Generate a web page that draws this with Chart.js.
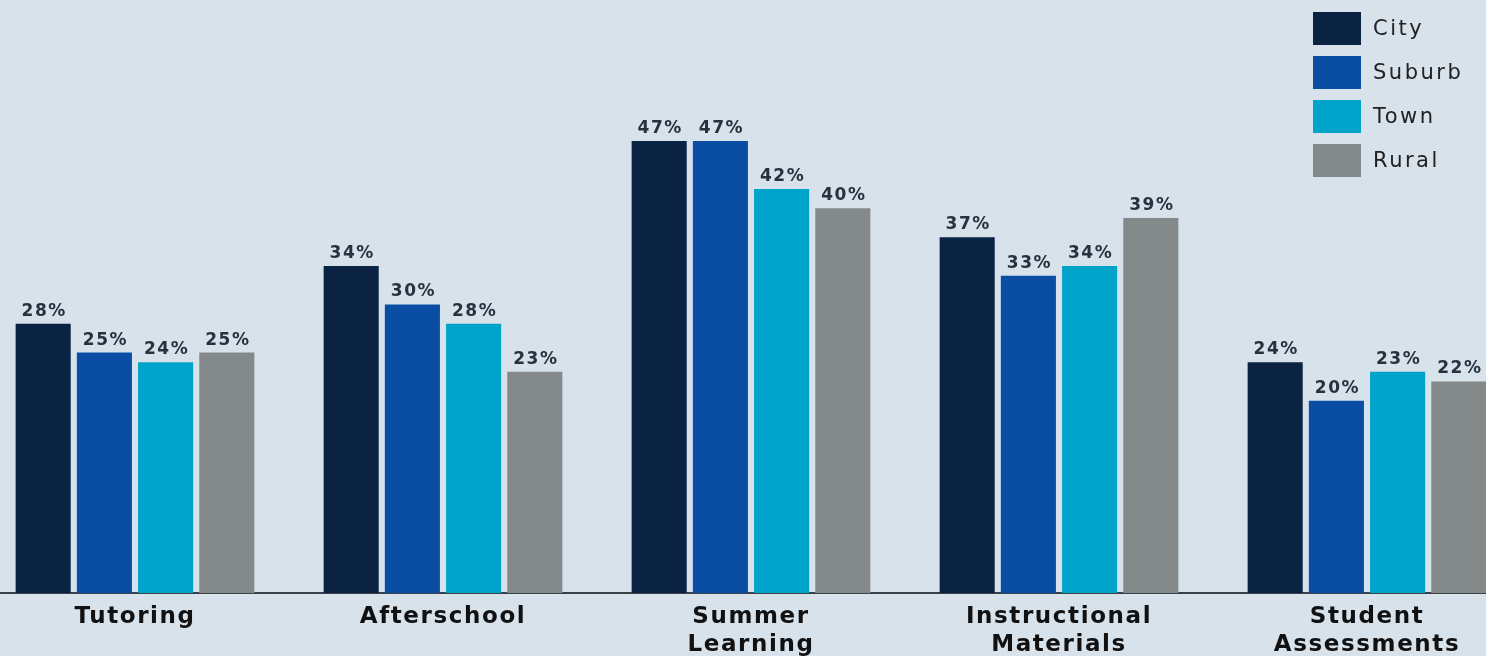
<!DOCTYPE html>
<html>
<head>
<meta charset="utf-8">
<script src="https://cdn.jsdelivr.net/npm/chart.js@4/dist/chart.umd.min.js"></script>
<style>
  html, body { margin: 0; padding: 0; overflow: hidden; background: #d7e2eb; }
  #wrap { position: absolute; left: -19px; top: 0; width: 1540px; height: 656px; }
</style>
</head>
<body>
<div id="wrap"><canvas id="chart"></canvas></div>
<script>
"use strict";

// share of districts by spending area and locale, in percent
var categories = [
  "Tutoring",
  "Afterschool",
  ["Summer", "Learning"],
  ["Instructional", "Materials"],
  ["Student", "Assessments"]
];
var cityValues = [28, 34, 47, 37, 24];
var suburbValues = [25, 30, 47, 33, 20];
var townValues = [24, 28, 42, 34, 23];
var ruralValues = [25, 23, 40, 39, 22];

var seriesNames = ["City", "Suburb", "Town", "Rural"];
var seriesColors = ["#0b2343", "#0a4ea3", "#00a4ca", "#84898a"];

var fontFamily = "'DejaVu Sans', 'Liberation Sans', sans-serif";

/**
 * Value labels above every bar.
 */
var valueLabels = {
  id: "valueLabels",
  afterDatasetsDraw: function (chart) {
    var ctx = chart.ctx;
    ctx.save();
    ctx.font = "bold 17px " + fontFamily;
    ctx.letterSpacing = "1.5px";
    ctx.fillStyle = "#28313f";
    ctx.textAlign = "center";
    ctx.textBaseline = "alphabetic";
    chart.data.datasets.forEach(function (ds, i) {
      var meta = chart.getDatasetMeta(i);
      meta.data.forEach(function (bar, j) {
        ctx.fillText(ds.data[j] + "%", bar.x + 1, bar.y - 8);
      });
    });
    ctx.restore();
  },
};

/**
 * Stacked legend in the top right corner.
 */
var cornerLegend = {
  id: "cornerLegend",
  afterDraw: function (chart) {
    var ctx = chart.ctx;
    var x = 1332;
    var y = 12;
    ctx.save();
    ctx.font = "21px " + fontFamily;
    ctx.letterSpacing = "2.5px";
    ctx.textAlign = "left";
    ctx.textBaseline = "middle";
    chart.data.datasets.forEach(function (ds, i) {
      var top = y + i * 44;
      ctx.fillStyle = ds.backgroundColor;
      ctx.fillRect(x, top, 48, 33);
      ctx.fillStyle = "#222222";
      ctx.fillText(ds.label, x + 60, top + 18);
    });
    ctx.restore();
  },
};

// wide tracking for the axis labels
var tracking = {
  id: "tracking",
  beforeDraw: function (chart) {
    chart.ctx.letterSpacing = "1.6px";
  },
};

var seriesValues = [cityValues, suburbValues, townValues, ruralValues];
var datasets = seriesNames.map(function (name, i) {
  return {
    label: name,
    data: seriesValues[i],
    backgroundColor: seriesColors[i],
    borderWidth: 0,
    categoryPercentage: 0.795,
    barPercentage: 0.9,
  };
});

var ctx = document.getElementById("chart").getContext("2d");
new Chart(ctx, {
  type: "bar",
  data: { labels: categories, datasets: datasets },
  plugins: [tracking, valueLabels, cornerLegend],
  options: {
    responsive: true,
    maintainAspectRatio: false,
    animation: false,
    layout: { padding: 0 },
    plugins: {
      legend: { display: false },
      tooltip: { enabled: false },
    },
    scales: {
      x: {
        grid: { display: false, drawTicks: false },
        border: { display: true, color: "#3b4046", width: 2 },
        ticks: {
          autoSkip: false,
          maxRotation: 0,
          padding: 10,
          color: "#111111",
          font: { family: fontFamily, size: 23, weight: "bold", lineHeight: 1.22 },
        },
        afterFit: function (axis) {
          axis.height = 63;
        },
      },
      y: {
        display: false,
        min: 0,
        max: 61.66,
      },
    },
  },
});
</script>
</body>
</html>
